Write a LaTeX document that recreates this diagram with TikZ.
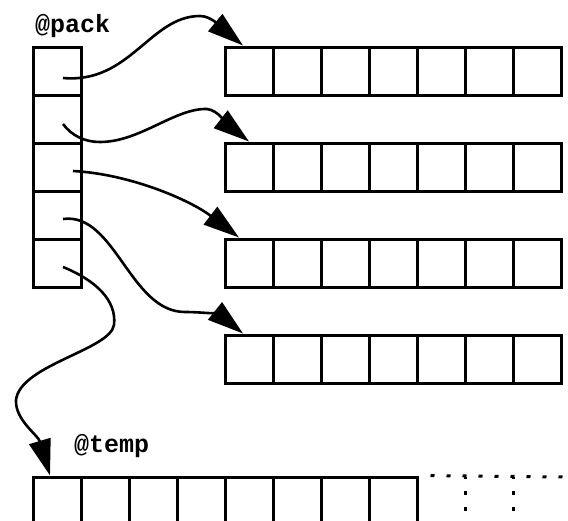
\documentclass[tikz,border=0pt]{standalone}
\usepackage{fontspec}
\setmonofont{Liberation Mono}
\usetikzlibrary{arrows.meta}
\begin{document}
\begin{tikzpicture}[x=1pt,y=-1pt,
  cell/.style={draw, rectangle, minimum size=48pt, inner sep=0pt, line width=3pt},
  ptr/.style={line width=2.6pt, -{Triangle[length=36pt,width=22pt]}},
  dots/.style={line width=3pt, dash pattern=on 4pt off 12pt},
  lbl/.style={font=\fontsize{25}{30}\selectfont\ttfamily\bfseries, inner sep=0pt, anchor=base west}]
\useasboundingbox (0,0) rectangle (568,520);
\clip (0,0) rectangle (568,520);
\node[lbl] (packlbl) at (35,32){@pack};
\node[cell] (pk0) at (57,71){};
\node[cell] (pk1) at (57,119){};
\node[cell] (pk2) at (57,167){};
\node[cell] (pk3) at (57,215){};
\node[cell] (pk4) at (57,263){};
\node[cell] (r00) at (249,71){};
\node[cell] (r01) at (297,71){};
\node[cell] (r02) at (345,71){};
\node[cell] (r03) at (393,71){};
\node[cell] (r04) at (441,71){};
\node[cell] (r05) at (489,71){};
\node[cell] (r06) at (537,71){};
\node[cell] (r10) at (249,167){};
\node[cell] (r11) at (297,167){};
\node[cell] (r12) at (345,167){};
\node[cell] (r13) at (393,167){};
\node[cell] (r14) at (441,167){};
\node[cell] (r15) at (489,167){};
\node[cell] (r16) at (537,167){};
\node[cell] (r20) at (249,263){};
\node[cell] (r21) at (297,263){};
\node[cell] (r22) at (345,263){};
\node[cell] (r23) at (393,263){};
\node[cell] (r24) at (441,263){};
\node[cell] (r25) at (489,263){};
\node[cell] (r26) at (537,263){};
\node[cell] (r30) at (249,359){};
\node[cell] (r31) at (297,359){};
\node[cell] (r32) at (345,359){};
\node[cell] (r33) at (393,359){};
\node[cell] (r34) at (441,359){};
\node[cell] (r35) at (489,359){};
\node[cell] (r36) at (537,359){};
\node[lbl] (templbl) at (74,452){@temp};
\node[cell] (tp0) at (57,501){};
\node[cell] (tp1) at (105,501){};
\node[cell] (tp2) at (153,501){};
\node[cell] (tp3) at (201,501){};
\node[cell] (tp4) at (249,501){};
\node[cell] (tp5) at (297,501){};
\node[cell] (tp6) at (345,501){};
\node[cell] (tp7) at (393,501){};
\coordinate (dend) at (568,477);
\coordinate (dv0) at (465,477);
\coordinate (dv0b) at (465,525);
\coordinate (dv1) at (513,477);
\coordinate (dv1b) at (513,525);
\draw[dots, dash phase=4pt](tp7.north east) -- (dend);
\draw[dots, dash phase=2pt](dv0) -- (dv0b);
\draw[dots, dash phase=2pt](dv1) -- (dv1b);
\coordinate (a0) at ([shift={(6,7)}]pk0.center);
\coordinate (a1) at ([shift={(6,5)}]pk1.center);
\coordinate (a2) at ([shift={(16,4)}]pk2.center);
\coordinate (a3) at ([shift={(6,4)}]pk3.center);
\coordinate (a4) at ([shift={(6,4)}]pk4.center);
\draw[ptr](a0) .. controls (130,84) and (150,16) .. (200,16) .. controls (212,16) and (223,29) .. ([xshift=-6pt]r00.north);
\draw[ptr](a1) .. controls (72,136) and (85,142) .. (100,142) .. controls (140,142) and (175,108) .. (207,109) .. controls (218,110) and (228,125) .. (r10.north);
\draw[ptr](a2) .. controls (130,174) and (190,200) .. ([xshift=-10pt]r20.north);
\draw[ptr](a3) .. controls (115,212) and (130,312) .. (185,312) .. controls (203,312) and (220,315) .. ([xshift=-6pt]r30.north);
\draw[ptr](a4) .. controls (95,280) and (117,300) .. (114,325) .. controls (110,350) and (20,365) .. (16,400) .. controls (15,420) and (38,435) .. ([xshift=-7pt]tp0.north);
\end{tikzpicture}
\end{document}
